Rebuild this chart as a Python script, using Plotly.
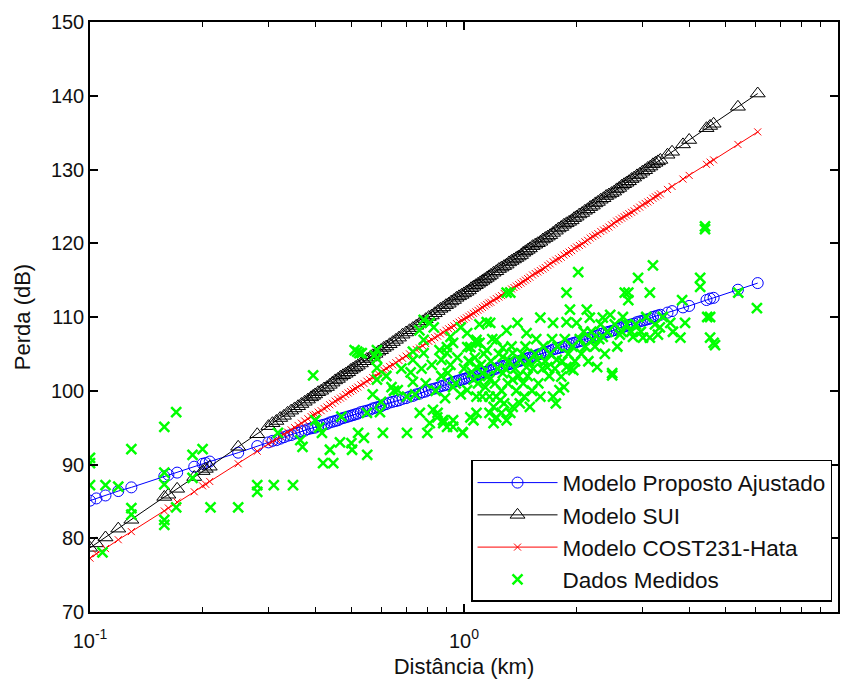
import plotly.graph_objects as go

# Distances (km) where the propagation models are evaluated
dist_model = [
    0.100, 0.104, 0.110, 0.119, 0.129, 0.158, 0.162, 0.171, 0.190, 0.200,
    0.204, 0.209, 0.249, 0.280, 0.300, 0.315, 0.330, 0.345, 0.360, 0.375,
    0.390, 0.400, 0.415, 0.430, 0.445, 0.460, 0.475, 0.490, 0.505, 0.520,
    0.540, 0.560, 0.580, 0.600, 0.620, 0.645, 0.670, 0.700, 0.730, 0.760,
    0.790, 0.820, 0.850, 0.880, 0.910, 0.940, 0.970, 1.000, 1.030, 1.060,
    1.090, 1.120, 1.150, 1.180, 1.220, 1.260, 1.300, 1.340, 1.380, 1.420,
    1.460, 1.500, 1.550, 1.600, 1.650, 1.700, 1.760, 1.820, 1.880, 1.940,
    2.000, 2.070, 2.140, 2.210, 2.280, 2.360, 2.440, 2.520, 2.600, 2.680,
    2.760, 2.850, 2.950, 3.050, 3.150, 3.250, 3.350, 3.500, 3.600, 3.850,
    4.000, 4.450, 4.550, 4.650, 5.400, 6.100,
]

# Path loss (dB) - fitted proposed model
loss_proposto = [
    85.1, 85.4, 85.8, 86.4, 86.9, 88.4, 88.6, 88.9, 89.7, 90.1,
    90.2, 90.4, 91.6, 92.5, 93.0, 93.3, 93.7, 94.0, 94.3, 94.6,
    94.9, 95.0, 95.3, 95.5, 95.8, 96.0, 96.3, 96.5, 96.7, 96.9,
    97.2, 97.4, 97.7, 97.9, 98.2, 98.5, 98.7, 99.0, 99.3, 99.6,
    99.9, 100.2, 100.4, 100.7, 100.9, 101.2, 101.4, 101.6, 101.8, 102.0,
    102.2, 102.4, 102.6, 102.8, 103.0, 103.3, 103.5, 103.7, 103.9, 104.1,
    104.3, 104.5, 104.7, 105.0, 105.2, 105.4, 105.7, 105.9, 106.1, 106.4,
    106.6, 106.8, 107.1, 107.3, 107.5, 107.8, 108.0, 108.2, 108.5, 108.7,
    108.9, 109.1, 109.4, 109.6, 109.8, 110.1, 110.3, 110.6, 110.8, 111.3,
    111.5, 112.3, 112.5, 112.6, 113.7, 114.6,
]

# Path loss (dB) - SUI model
loss_sui = [
    78.7, 79.3, 80.1, 81.3, 82.5, 85.6, 85.9, 86.7, 88.3, 89.1,
    89.4, 89.7, 92.4, 94.1, 95.2, 95.9, 96.6, 97.3, 97.9, 98.5,
    99.1, 99.5, 100.0, 100.5, 101.1, 101.6, 102.1, 102.5, 103.0, 103.4,
    104.0, 104.5, 105.0, 105.5, 106.0, 106.6, 107.2, 107.9, 108.5, 109.1,
    109.7, 110.2, 110.8, 111.3, 111.8, 112.3, 112.8, 113.2, 113.6, 114.1,
    114.5, 114.9, 115.3, 115.7, 116.2, 116.7, 117.1, 117.6, 118.0, 118.4,
    118.9, 119.3, 119.8, 120.2, 120.7, 121.1, 121.7, 122.2, 122.7, 123.1,
    123.6, 124.1, 124.6, 125.1, 125.6, 126.1, 126.6, 127.0, 127.5, 128.0,
    128.4, 128.9, 129.4, 129.9, 130.4, 130.9, 131.3, 132.0, 132.4, 133.4,
    134.0, 135.6, 135.9, 136.2, 138.5, 140.3,
]

# Path loss (dB) - COST231-Hata model
loss_cost231 = [
    77.3, 77.9, 78.6, 79.8, 80.9, 83.7, 84.1, 84.9, 86.3, 87.1,
    87.3, 87.7, 90.1, 91.8, 92.8, 93.4, 94.1, 94.7, 95.3, 95.9,
    96.5, 96.8, 97.3, 97.8, 98.3, 98.8, 99.2, 99.7, 100.1, 100.5,
    101.0, 101.5, 102.0, 102.5, 103.0, 103.5, 104.1, 104.7, 105.3, 105.8,
    106.4, 106.9, 107.4, 107.9, 108.4, 108.8, 109.3, 109.7, 110.1, 110.5,
    110.9, 111.3, 111.7, 112.0, 112.5, 112.9, 113.4, 113.8, 114.2, 114.6,
    115.0, 115.4, 115.9, 116.3, 116.7, 117.2, 117.7, 118.1, 118.6, 119.0,
    119.5, 119.9, 120.4, 120.9, 121.3, 121.8, 122.2, 122.7, 123.2, 123.6,
    124.0, 124.4, 124.9, 125.4, 125.8, 126.3, 126.7, 127.3, 127.7, 128.7,
    129.2, 130.7, 131.0, 131.3, 133.4, 135.1,
]

# Extra evaluation points in the densely sampled 0.3-3.3 km range
dist_model_mid = [
    0.3075, 0.3225, 0.3375, 0.3525, 0.3675, 0.3825, 0.395, 0.4075, 0.4225, 0.4375,
    0.4525, 0.4675, 0.4825, 0.4975, 0.5125, 0.530, 0.550, 0.570, 0.590, 0.610,
    0.6325, 0.6575, 0.685, 0.715, 0.745, 0.775, 0.805, 0.835, 0.865, 0.895,
    0.925, 0.955, 0.985, 1.015, 1.045, 1.075, 1.105, 1.135, 1.165, 1.200,
    1.240, 1.280, 1.320, 1.360, 1.400, 1.440, 1.480, 1.525, 1.575, 1.625,
    1.675, 1.730, 1.790, 1.850, 1.910, 1.970, 2.035, 2.105, 2.175, 2.245,
    2.320, 2.400, 2.480, 2.560, 2.640, 2.720, 2.805, 2.900, 3.000, 3.100,
    3.200, 3.300,
]
loss_proposto_mid = [
    93.2, 93.5, 93.9, 94.2, 94.5, 94.8, 95.0, 95.2, 95.4, 95.7,
    95.9, 96.2, 96.4, 96.6, 96.8, 97.1, 97.3, 97.6, 97.8, 98.1,
    98.4, 98.6, 98.9, 99.2, 99.5, 99.8, 100.1, 100.3, 100.6, 100.8,
    101.1, 101.3, 101.5, 101.7, 101.9, 102.1, 102.3, 102.5, 102.7, 102.9,
    103.2, 103.4, 103.6, 103.8, 104.0, 104.2, 104.4, 104.6, 104.9, 105.1,
    105.3, 105.6, 105.8, 106.0, 106.3, 106.5, 106.7, 107.0, 107.2, 107.4,
    107.7, 107.9, 108.1, 108.4, 108.6, 108.8, 109.0, 109.3, 109.5, 109.7,
    110.0, 110.2,
]
loss_sui_mid = [
    95.6, 96.3, 97.0, 97.6, 98.2, 98.8, 99.3, 99.8, 100.3, 100.8,
    101.4, 101.9, 102.3, 102.8, 103.2, 103.7, 104.3, 104.8, 105.3, 105.8,
    106.3, 106.9, 107.6, 108.2, 108.8, 109.4, 110.0, 110.5, 111.1, 111.6,
    112.1, 112.6, 113.0, 113.4, 113.9, 114.3, 114.7, 115.1, 115.5, 116.0,
    116.5, 116.9, 117.4, 117.8, 118.2, 118.7, 119.1, 119.6, 120.0, 120.5,
    120.9, 121.4, 122.0, 122.5, 122.9, 123.4, 123.9, 124.4, 124.9, 125.4,
    125.9, 126.4, 126.8, 127.3, 127.8, 128.2, 128.7, 129.2, 129.7, 130.2,
    130.7, 131.1,
]
loss_cost231_mid = [
    93.1, 93.8, 94.4, 95.0, 95.6, 96.2, 96.7, 97.1, 97.6, 98.1,
    98.6, 99.0, 99.5, 99.9, 100.3, 100.8, 101.3, 101.8, 102.3, 102.8,
    103.3, 103.8, 104.4, 105.0, 105.6, 106.1, 106.7, 107.2, 107.7, 108.2,
    108.6, 109.1, 109.5, 109.9, 110.3, 110.7, 111.1, 111.5, 111.9, 112.3,
    112.7, 113.2, 113.6, 114.0, 114.4, 114.8, 115.2, 115.7, 116.1, 116.5,
    117.0, 117.5, 117.9, 118.4, 118.8, 119.3, 119.7, 120.2, 120.7, 121.1,
    121.6, 122.0, 122.5, 123.0, 123.4, 123.8, 124.2, 124.7, 125.2, 125.6,
    126.1, 126.5,
]

# Measured samples: distance (km) and path loss (dB)
dist_medidos = [
    0.100, 0.100, 0.100, 0.108, 0.110, 0.119, 0.129, 0.129, 0.129, 0.158,
    0.158, 0.158, 0.158, 0.158, 0.170, 0.170, 0.188, 0.188, 0.200, 0.210,
    0.249, 0.280, 0.280, 0.310, 0.318, 0.349, 0.365, 0.370, 0.395, 0.400,
    0.410, 0.417, 0.420, 0.438, 0.447, 0.466, 0.470, 0.500, 0.502, 0.510,
    0.518, 0.521, 0.525, 0.533, 0.540, 0.550, 0.551, 0.570, 0.577, 0.585,
    0.585, 0.585, 0.585, 0.596, 0.600, 0.607, 0.620, 0.640, 0.650, 0.665,
    0.680, 0.704, 0.704, 0.720, 0.730, 0.730, 0.730, 0.740, 0.760, 0.762,
    0.770, 0.780, 0.780, 0.780, 0.790, 0.798, 0.810, 0.810, 0.820, 0.826,
    0.830, 0.840, 0.848, 0.850, 0.860, 0.870, 0.870, 0.879, 0.880, 0.890,
    0.900, 0.900, 0.901, 0.905, 0.920, 0.920, 0.935, 0.935, 0.935, 0.935,
    0.950, 0.960, 0.980, 0.980, 0.990, 0.993, 1.000, 1.020, 1.020, 1.020,
    1.030, 1.040, 1.040, 1.050, 1.060, 1.060, 1.070, 1.080, 1.080, 1.080,
    1.080, 1.080, 1.090, 1.100, 1.100, 1.110, 1.120, 1.120, 1.130, 1.140,
    1.150, 1.150, 1.160, 1.170, 1.170, 1.170, 1.175, 1.180, 1.190, 1.200,
    1.200, 1.210, 1.220, 1.220, 1.220, 1.230, 1.240, 1.250, 1.260, 1.260,
    1.270, 1.270, 1.270, 1.280, 1.290, 1.300, 1.300, 1.300, 1.310, 1.320,
    1.330, 1.330, 1.340, 1.350, 1.350, 1.350, 1.370, 1.380, 1.390, 1.400,
    1.410, 1.410, 1.430, 1.440, 1.450, 1.460, 1.470, 1.470, 1.480, 1.490,
    1.500, 1.520, 1.530, 1.550, 1.560, 1.570, 1.580, 1.600, 1.600, 1.620,
    1.630, 1.650, 1.670, 1.690, 1.700, 1.720, 1.730, 1.730, 1.750, 1.760,
    1.770, 1.780, 1.800, 1.820, 1.830, 1.850, 1.860, 1.880, 1.880, 1.880,
    1.900, 1.920, 1.930, 1.950, 1.960, 1.980, 2.000, 2.020, 2.040, 2.060,
    2.090, 2.110, 2.130, 2.150, 2.170, 2.190, 2.210, 2.240, 2.270, 2.300,
    2.320, 2.350, 2.350, 2.380, 2.420, 2.460, 2.490, 2.490, 2.530, 2.570,
    2.610, 2.640, 2.660, 2.690, 2.720, 2.750, 2.750, 2.800, 2.830, 2.880,
    2.920, 2.970, 3.010, 3.070, 3.140, 3.140, 3.200, 3.240, 3.300, 3.340,
    3.400, 3.560, 3.620, 3.790, 3.830, 3.900, 4.280, 4.280, 4.410, 4.410,
    4.470, 4.550, 4.550, 4.650, 4.690, 5.410, 6.070,
]
loss_medidos = [
    90.9, 90.2, 87.2, 78.1, 87.2, 87.0, 92.1, 84.1, 83.2, 95.1,
    88.9, 87.3, 82.5, 81.8, 97.1, 84.2, 91.3, 88.2, 92.1, 84.2,
    84.2, 87.2, 86.3, 87.2, 94.3, 87.2, 93.3, 92.4, 102.1, 96.0,
    95.0, 94.3, 90.2, 92.0, 90.2, 93.0, 96.5, 92.9, 92.0, 105.5,
    105.3, 94.3, 105.1, 105.1, 93.6, 97.0, 91.3, 99.5, 104.8, 105.5,
    104.4, 103.1, 101.5, 97.1, 98.5, 94.3, 102.0, 100.5, 100.0, 100.1,
    103.0, 99.2, 94.3, 102.5, 101.2, 104.2, 105.3, 99.5, 108.2, 97.0,
    103.0, 106.9, 105.1, 109.6, 101.0, 94.3, 109.2, 95.6, 103.5, 97.4,
    108.6, 100.0, 96.4, 97.0, 105.5, 104.2, 102.0, 96.0, 95.6, 99.0,
    105.1, 105.9, 95.1, 102.4, 103.5, 107.3, 106.5, 100.5, 95.1, 96.0,
    101.0, 104.5, 108.6, 99.5, 94.4, 94.3, 103.0, 107.8, 100.1, 105.9,
    104.0, 105.9, 96.4, 102.5, 101.5, 96.0, 104.5, 106.5, 106.9, 103.2,
    99.2, 97.0, 101.0, 106.5, 109.0, 103.5, 102.4, 99.2, 105.0, 100.5,
    105.5, 109.3, 102.0, 101.5, 99.2, 97.0, 109.2, 104.0, 107.0, 97.8,
    95.6, 101.0, 106.9, 99.2, 96.4, 103.0, 105.0, 98.7, 97.0, 100.0,
    105.8, 104.6, 102.4, 98.3, 103.0, 108.2, 96.0, 113.3, 101.0, 104.0,
    113.3, 97.0, 106.0, 105.1, 101.5, 97.8, 103.0, 100.0, 109.2, 102.0,
    104.2, 98.3, 105.0, 101.0, 99.2, 106.0, 107.8, 103.2, 102.0, 104.0,
    97.8, 100.0, 103.0, 105.0, 107.0, 104.2, 101.0, 109.9, 99.2, 103.0,
    106.0, 104.0, 103.2, 102.0, 105.0, 107.0, 109.2, 99.2, 103.0, 98.3,
    104.2, 106.0, 100.1, 101.9, 104.0, 100.5, 107.0, 113.3, 109.3, 103.2,
    105.0, 111.0, 103.0, 106.0, 102.8, 104.0, 109.2, 116.1, 107.0, 105.0,
    108.0, 106.0, 111.0, 104.0, 109.9, 108.0, 106.9, 106.0, 103.2, 107.0,
    109.0, 109.9, 107.3, 105.0, 108.0, 110.3, 102.1, 102.4, 109.0, 106.0,
    107.6, 108.0, 110.0, 113.3, 109.0, 113.3, 112.3, 108.0, 107.3, 109.0,
    115.3, 108.0, 107.2, 110.0, 113.3, 107.2, 117.0, 109.0, 107.6, 108.6,
    110.0, 109.2, 108.0, 107.2, 112.3, 109.2, 115.3, 114.1, 122.3, 121.9,
    110.0, 107.2, 110.0, 106.5, 106.2, 113.3, 111.2,
]

x_tickvals = [0.1, 1, 10]
x_ticktext = ["10<sup>-1</sup>", "10<sup>0</sup>", "10<sup>1</sup>"]
x_minor = [0.2, 0.3, 0.4, 0.5, 0.6, 0.7, 0.8, 0.9, 2, 3, 4, 5, 6, 7, 8, 9]

FONT = "Liberation Sans, Arial, sans-serif"

# Merge both sets of evaluation points into one table ordered by distance
model_rows = sorted(
    list(zip(dist_model, loss_proposto, loss_sui, loss_cost231))
    + list(zip(dist_model_mid, loss_proposto_mid, loss_sui_mid, loss_cost231_mid))
)
d_all = [r[0] for r in model_rows]
prop_all = [r[1] for r in model_rows]
sui_all = [r[2] for r in model_rows]
cost_all = [r[3] for r in model_rows]

fig = go.Figure()

fig.add_trace(go.Scatter(
    x=d_all, y=prop_all, mode="lines+markers",
    name="Modelo Proposto Ajustado",
    line=dict(color="#0000ff", width=1),
    marker=dict(symbol="circle-open", size=11, color="#0000ff",
                line=dict(width=1, color="#0000ff")),
))
fig.add_trace(go.Scatter(
    x=d_all, y=sui_all, mode="lines+markers",
    name="Modelo SUI",
    line=dict(color="#000000", width=1),
    marker=dict(symbol="triangle-up-open", size=13, color="#000000",
                line=dict(width=1, color="#000000")),
))
fig.add_trace(go.Scatter(
    x=d_all, y=cost_all, mode="lines+markers",
    name="Modelo COST231-Hata",
    line=dict(color="#ff0000", width=1),
    marker=dict(symbol="x-thin-open", size=7, color="#ff0000",
                line=dict(width=1, color="#ff0000")),
))
fig.add_trace(go.Scatter(
    x=dist_medidos, y=loss_medidos, mode="markers",
    name="Dados Medidos",
    marker=dict(symbol="x-thin-open", size=10, color="#00ff00",
                line=dict(width=2.5, color="#00ff00")),
))

axis_common = dict(
    showline=True, linecolor="black", linewidth=1.5, mirror="ticks",
    ticks="inside", ticklen=8, tickwidth=1.5, tickcolor="black",
    showgrid=False, zeroline=False, automargin=False,
    tickfont=dict(family=FONT, size=20, color="#111111"),
)

fig.update_layout(
    width=853, height=680,
    margin=dict(l=90, r=15, t=22, b=68),
    paper_bgcolor="white", plot_bgcolor="white",
    font=dict(family=FONT, color="#111111"),
    showlegend=True,
    legend=dict(
        x=0.992, y=0.017, xanchor="right", yanchor="bottom",
        bgcolor="white", bordercolor="black", borderwidth=1.5,
        itemwidth=80,
        font=dict(family=FONT, size=22.5, color="#111111"),
    ),
    xaxis=dict(
        type="log", range=[-1, 1],
        tickvals=x_tickvals, ticktext=x_ticktext,
        ticklabelstandoff=10,
        minor=dict(tickvals=x_minor, ticks="inside", ticklen=5,
                   tickwidth=1, tickcolor="black", showgrid=False),
        title=dict(text="Distância (km)", standoff=8,
                   font=dict(family=FONT, size=22, color="#111111")),
        **axis_common,
    ),
    yaxis=dict(
        range=[70, 150], dtick=10, tick0=70,
        title=dict(text="Perda (dB)", standoff=14,
                   font=dict(family=FONT, size=22, color="#111111")),
        **axis_common,
    ),
)

fig.write_html("out.html")
